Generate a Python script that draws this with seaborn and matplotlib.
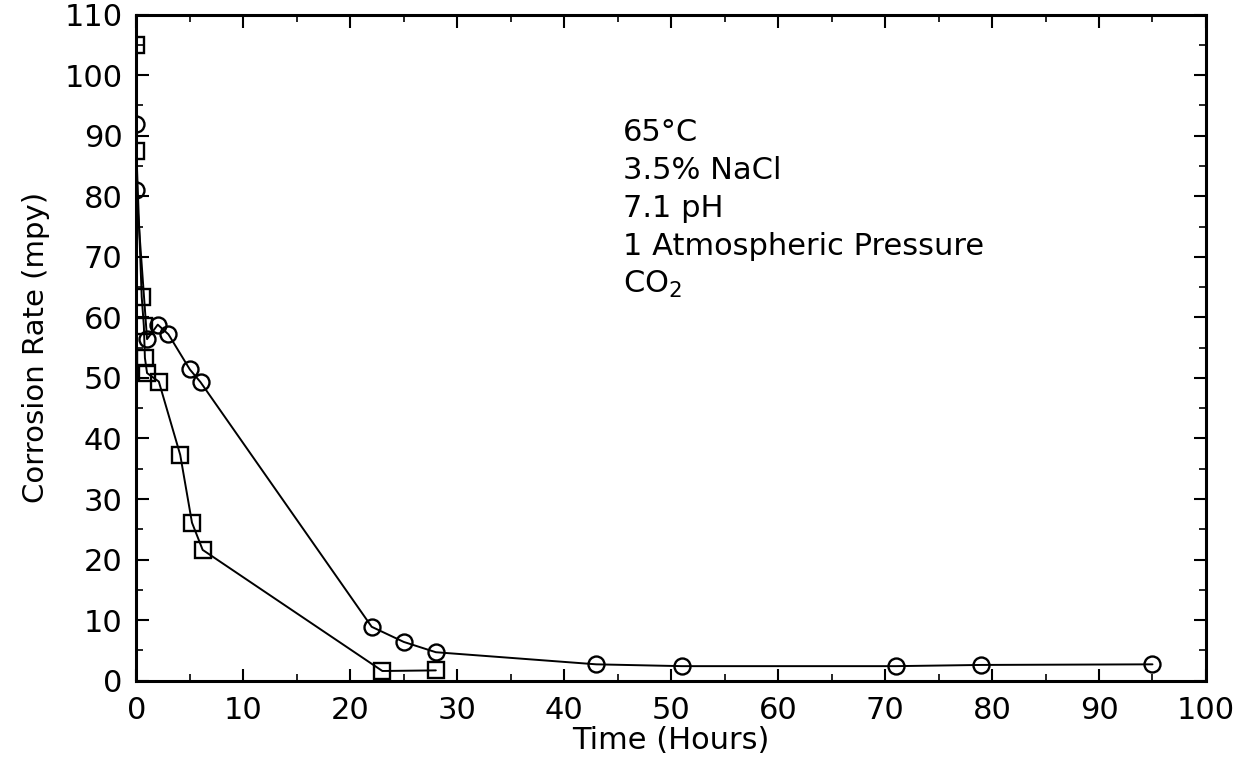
import numpy as np
import pandas as pd
import matplotlib
matplotlib.use("Agg")
import matplotlib.pyplot as plt
import seaborn as sns
from matplotlib.ticker import MultipleLocator

# readings taken off the scanned figure
circle_time = [0, 0, 1, 2, 3, 5, 6, 22, 25, 28, 43, 51, 71, 79, 95]
circle_rate = [92, 81, 56.4, 58.8, 57.2, 51.4, 49.3, 8.9, 6.4, 4.7, 2.7, 2.4, 2.4, 2.6, 2.7]
square_time = [0, 0, 0.5, 0.7, 0.8, 1, 2.1, 4.1, 5.2, 6.2, 23, 28]
square_rate = [105, 87.5, 63.4, 58.6, 53.3, 50.8, 49.4, 37.3, 26.1, 21.6, 1.6, 1.7]

conditions = ["65\u00b0C", "3.5% NaCl", "7.1 pH", "1 Atmospheric Pressure", "CO$_2$"]

sns.set_theme(style="ticks")
plt.rcParams['font.family'] = ['DejaVu Sans']
plt.rcParams['mathtext.fontset'] = 'dejavusans'
for k in ['text.color', 'axes.labelcolor', 'xtick.color', 'ytick.color']:
    plt.rcParams[k] = 'black'

fig = plt.figure(figsize=(12.51, 7.70), dpi=100)
ax = fig.add_axes([0.109, 0.116, 0.855, 0.865])

circ = pd.DataFrame({"t": circle_time, "r": circle_rate})
sq = pd.DataFrame({"t": square_time, "r": square_rate})

sns.lineplot(data=circ, x="t", y="r", sort=False, estimator=None, ax=ax,
             color="black", lw=1.4, marker="o", ms=11.5, mfc="none", mec="black", mew=1.7)
sns.lineplot(data=sq, x="t", y="r", sort=False, estimator=None, ax=ax,
             color="black", lw=1.4, marker="s", ms=11, mfc="none", mec="black", mew=1.7)

ax.set_xlim(0, 100)
ax.set_ylim(0, 110)
ax.xaxis.set_major_locator(MultipleLocator(10))
ax.xaxis.set_minor_locator(MultipleLocator(5))
ax.yaxis.set_major_locator(MultipleLocator(10))
ax.yaxis.set_minor_locator(MultipleLocator(5))
ax.tick_params(which="both", direction="in", top=True, right=True, color="black")
ax.tick_params(which="major", length=9, width=1.5, labelsize=22)
ax.tick_params(axis="x", which="major", pad=11)
ax.tick_params(axis="y", which="major", pad=10)
ax.tick_params(which="minor", length=5, width=1.2)
for s in ax.spines.values():
    s.set_visible(True)
    s.set_linewidth(2.2)
    s.set_color("black")

ax.set_xlabel("Time (Hours)", fontsize=22, labelpad=1)
ax.set_ylabel("Corrosion Rate (mpy)", fontsize=21, labelpad=10)

for i, line in enumerate(conditions):
    ax.text(45.5, 90.6 - i * 6.3, line, fontsize=22, ha="left", va="center")

fig.savefig("out.png", dpi=100)
